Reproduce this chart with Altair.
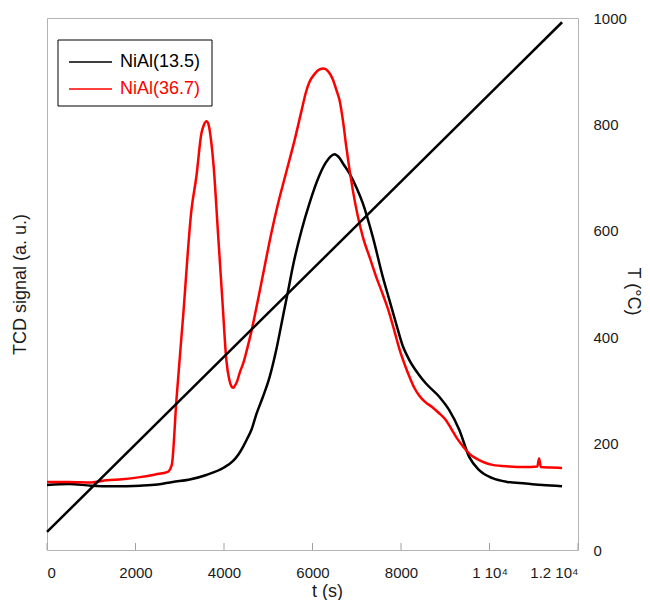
import altair as alt
import pandas as pd

# ---- data ----
series_names = ["NiAl(13.5)", "NiAl(36.7)"]
series_colors = ["#000000", "#ff0000"]

t_black = [0, 500, 1000, 1500, 2100, 2500, 2840, 3200, 3600, 4000, 4200, 4330, 4430,
           4530, 4620, 4730, 4880, 5030, 5180, 5330, 5450, 5556, 5750, 5933, 6150,
           6300, 6400, 6500, 6600, 6700, 6835, 7000, 7136, 7361, 7587, 7737, 7888,
           8038, 8189, 8400, 8565, 8865, 9090, 9316, 9541, 9767, 10068, 10400,
           10820, 11200, 11640]
v_black = [122, 124, 121, 120, 121, 123, 128, 132, 141, 155, 167, 180, 194,
           210, 226, 255, 288, 325, 376, 438, 488, 533, 600, 652, 703,
           728, 739, 744, 738, 725, 708, 680, 652, 589, 514, 470, 426,
           384, 357, 330, 313, 288, 263, 226, 175, 150, 135, 128,
           125, 122, 120]

t_red = [0, 500, 1000, 1350, 1700, 2100, 2450, 2730, 2820, 2925, 3075, 3264, 3376,
         3489, 3545, 3602, 3650, 3700, 3767, 3865, 3963, 4053, 4120, 4166, 4205,
         4241, 4300, 4354, 4450, 4504, 4617, 4767, 4918, 5068, 5218, 5406, 5594,
         5750, 5850, 5933, 6050, 6150, 6250, 6350, 6458, 6550, 6610, 6700, 6760,
         6910, 7136, 7300, 7437, 7600, 7737, 7850, 7963, 8100, 8189, 8300, 8414,
         8550, 8715, 8850, 9016, 9150, 9241, 9350, 9467, 9600, 9767, 9900, 10068,
         10444, 10800, 11080, 11121, 11160, 11400, 11640]
v_red = [128, 128, 127, 131, 133, 137, 142, 147, 160, 282, 438, 639, 702,
         783, 799, 806, 800, 775, 720, 595, 470, 357, 320, 308, 305,
         308, 318, 333, 355, 372, 410, 470, 533, 595, 650, 710, 770,
         825, 860, 880, 895, 903, 905, 900, 885, 862, 846, 800, 760,
         677, 589, 548, 514, 478, 445, 412, 378, 345, 326, 305, 290,
         278, 268, 258, 244, 226, 213, 200, 188, 177, 169, 164, 160,
         157, 156, 157, 172, 156, 155, 154]

t_temp = [0, 11640]
v_temp = [34, 992]

x_ticks = [0, 2000, 4000, 6000, 8000, 10000, 12000]
y_ticks = [0, 200, 400, 600, 800, 1000]

W, H = 531, 532
FONT = "Liberation Sans"

df = pd.concat([
    pd.DataFrame({"t": t_black, "v": v_black, "series": series_names[0]}),
    pd.DataFrame({"t": t_red, "v": v_red, "series": series_names[1]}),
], ignore_index=True)
df_temp = pd.DataFrame({"t": t_temp, "T": v_temp})
df_ticks = pd.DataFrame({"t": x_ticks})

xscale = alt.Scale(domain=[0, 12000], nice=False, zero=False)

x_axis = alt.Axis(
    values=x_ticks, format="d",
    labelExpr="datum.value == 10000 ? '1 10\u2074' : datum.value == 12000 ? '1.2 10\u2074' : datum.label",
    ticks=False, tickSize=0, grid=False, domainColor="#b4b4b4",
    labelPadding=15, labelFontSize=15, labelColor="#1a1a1a", labelFont=FONT,
    title="t (s)", titleFontSize=18, titleFontWeight="normal", titleFont=FONT,
    titleColor="#1a1a1a", titleX=280, titleY=41, titleBaseline="middle",
)

curves = alt.Chart(df).mark_line(strokeWidth=2.5, strokeJoin="round",
                                 interpolate="monotone").encode(
    x=alt.X("t:Q", scale=xscale, axis=x_axis),
    y=alt.Y("v:Q", scale=alt.Scale(domain=[0, 1000], nice=False),
            axis=alt.Axis(orient="left", labels=False, ticks=False, domain=False,
                          grid=False, title="TCD signal (a. u.)", titleFontSize=18,
                          titleFontWeight="normal", titleFont=FONT, titleColor="#1a1a1a",
                          titleX=-27, titleY=266, titleBaseline="middle")),
    color=alt.Color("series:N", scale=alt.Scale(domain=series_names, range=series_colors),
                    legend=None),
)

temp = alt.Chart(df_temp).mark_line(strokeWidth=2.5, color="black").encode(
    x=alt.X("t:Q", scale=xscale),
    y=alt.Y("T:Q", scale=alt.Scale(domain=[0, 1000], nice=False),
            axis=alt.Axis(orient="right", values=y_ticks, format="d", ticks=False,
                          tickSize=0, domain=False, grid=False, labelPadding=15,
                          labelFontSize=15, labelColor="#1a1a1a", labelFont=FONT,
                          title="T (\u00b0C)", titleFontSize=18, titleFontWeight="normal",
                          titleFont=FONT, titleColor="#1a1a1a", titleAngle=90,
                          titleX=54, titleY=273, titleBaseline="middle")),
)

ticks = alt.Chart(df_ticks).mark_rule(color="#a0a0a0", strokeWidth=1).encode(
    x=alt.X("t:Q", scale=xscale),
    y=alt.value(H),
    y2=alt.value(H - 7),
)

one = pd.DataFrame({"a": [0]})
legend_box = alt.Chart(one).mark_rect(fill="white", stroke="black", strokeWidth=1).encode(
    x=alt.value(11), x2=alt.value(165), y=alt.value(22), y2=alt.value(88)
)
legend_parts = [legend_box]
for i, (name, col) in enumerate(zip(series_names, series_colors)):
    yy = 44 + 27 * i
    legend_parts.append(
        alt.Chart(one).mark_rule(color=col, strokeWidth=1.5).encode(
            x=alt.value(22), x2=alt.value(65), y=alt.value(yy)
        )
    )
    legend_parts.append(
        alt.Chart(one).mark_text(text=name, color=col, fontSize=18, font=FONT,
                                 align="left", baseline="middle").encode(
            x=alt.value(73), y=alt.value(yy)
        )
    )

chart = alt.layer(curves, temp, ticks, *legend_parts).resolve_scale(
    y="independent"
).properties(
    width=W, height=H,
    padding={"left": 39, "top": 10, "right": 64, "bottom": 50},
    autosize=alt.AutoSizeParams(type="none"),
).configure_view(
    stroke="#b4b4b4", strokeWidth=1
)

chart.save("out.html", embed_options={"renderer": "svg", "actions": False})
